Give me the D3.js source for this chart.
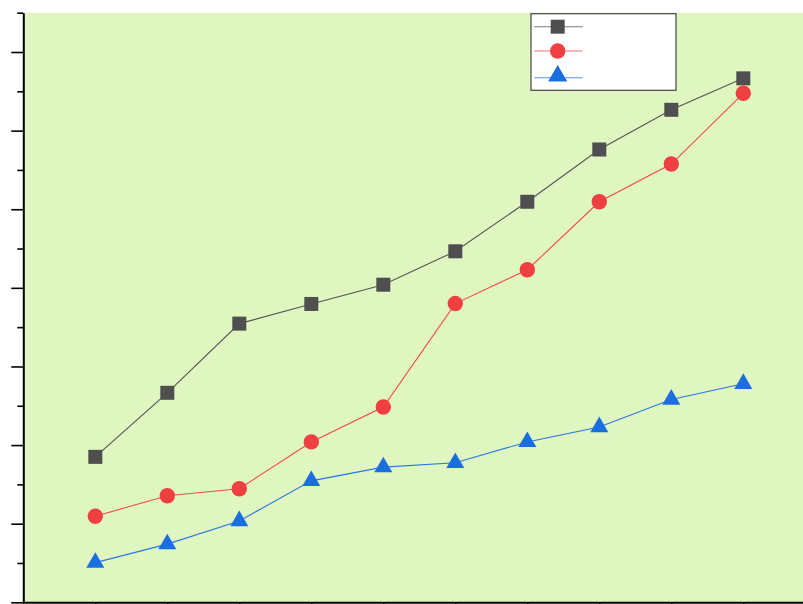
<!DOCTYPE html>
<html>
<head>
<meta charset="utf-8">
<script src="https://cdn.jsdelivr.net/npm/d3@7"></script>
<style>
  html, body { margin: 0; padding: 0; background: #ffffff; }
  svg { display: block; }
</style>
</head>
<body>
<svg id="chart" width="803" height="604"></svg>
<script>
// Sample positions along the x axis
const xPositions = [1, 2, 3, 4, 5, 6, 7, 8, 9, 10];

// Three measured series
const seriesSquare = [3.70, 5.33, 7.09, 7.59, 8.08, 8.93, 10.19, 11.52, 12.53, 13.33];
const seriesCircle = [2.19, 2.71, 2.89, 4.08, 4.97, 7.60, 8.46, 10.19, 11.15, 12.95];
const seriesTriangle = [1.01, 1.48, 2.07, 3.09, 3.44, 3.55, 4.08, 4.46, 5.16, 5.56];

// Axis tick values (unlabelled)
const xTicks = [0, 1, 2, 3, 4, 5, 6, 7, 8, 9, 10, 11];
const yMajorTicks = [0, 2, 4, 6, 8, 10, 12, 14];
const yMinorTicks = [1, 3, 5, 7, 9, 11, 13, 15];

const svg = d3.select("#chart");

const x = d3.scaleLinear().domain([0, 11]).range([23.3, 815.3]);
const y = d3.scaleLinear().domain([0, 15]).range([602.3, 12.7]);

// Plot background
svg.append("rect")
  .attr("x", x(0)).attr("y", y(15))
  .attr("width", x(11) - x(0)).attr("height", y(0) - y(15))
  .attr("fill", "#dff6c1");

const series = [
  { values: seriesSquare, color: "#4f4f4f", line: "#555555", symbol: d3.symbolSquare, size: 196 },
  { values: seriesCircle, color: "#ef3f40", line: "#ef4a4a", symbol: d3.symbolCircle, size: 186 },
  { values: seriesTriangle, color: "#1a6ee0", line: "#2a78e0", symbol: d3.symbolTriangle, size: 140 }
];

const line = d3.line().x(d => x(d[0])).y(d => y(d[1]));

series.forEach(s => {
  const pts = xPositions.map((xv, i) => [xv, s.values[i]]);
  svg.append("path")
    .attr("d", line(pts))
    .attr("fill", "none")
    .attr("stroke", s.line)
    .attr("stroke-width", 1.1);
  svg.append("g").selectAll("path")
    .data(pts)
    .join("path")
    .attr("transform", d => `translate(${x(d[0])},${y(d[1])})`)
    .attr("d", d3.symbol().type(s.symbol).size(s.size))
    .attr("fill", s.color);
});

// Axes
const xAxis = svg.append("g")
  .attr("transform", `translate(0,${y(0)})`)
  .call(d3.axisBottom(x).tickValues(xTicks).tickSize(8).tickSizeOuter(0).tickFormat(""));
xAxis.select(".domain").attr("stroke", "#000").attr("stroke-width", 2);
xAxis.selectAll(".tick line").attr("stroke", "#000").attr("stroke-width", 1.6);

const yMinor = svg.append("g")
  .attr("transform", `translate(${x(0)},0)`)
  .call(d3.axisLeft(y).tickValues(yMinorTicks).tickSize(6).tickSizeOuter(0).tickFormat(""));
yMinor.select(".domain").remove();
yMinor.selectAll(".tick line").attr("stroke", "#000").attr("stroke-width", 1.6);

const yMajor = svg.append("g")
  .attr("transform", `translate(${x(0)},0)`)
  .call(d3.axisLeft(y).tickValues(yMajorTicks).tickSize(12).tickSizeOuter(0).tickFormat(""));
yMajor.select(".domain").attr("stroke", "#000").attr("stroke-width", 2);
yMajor.selectAll(".tick line").attr("stroke", "#000").attr("stroke-width", 1.6);

// Legend
const legend = svg.append("g");
legend.append("rect")
  .attr("x", 531).attr("y", 13.7)
  .attr("width", 145).attr("height", 76.6)
  .attr("fill", "#ffffff")
  .attr("stroke", "#444444")
  .attr("stroke-width", 1.2);
const legendRows = [26.7, 51, 76];
series.forEach((s, i) => {
  const ly = legendRows[i] + (i === 2 ? 1.7 : 0);
  legend.append("line")
    .attr("x1", 534.3).attr("x2", 582.7)
    .attr("y1", ly).attr("y2", ly)
    .attr("stroke", s.line).attr("stroke-width", 1.1)
    .attr("stroke-opacity", 0.8);
  legend.append("path")
    .attr("transform", `translate(557.7,${legendRows[i]})`)
    .attr("d", d3.symbol().type(s.symbol).size(i === 2 ? 160 : s.size))
    .attr("fill", s.color);
});
</script>
</body>
</html>
